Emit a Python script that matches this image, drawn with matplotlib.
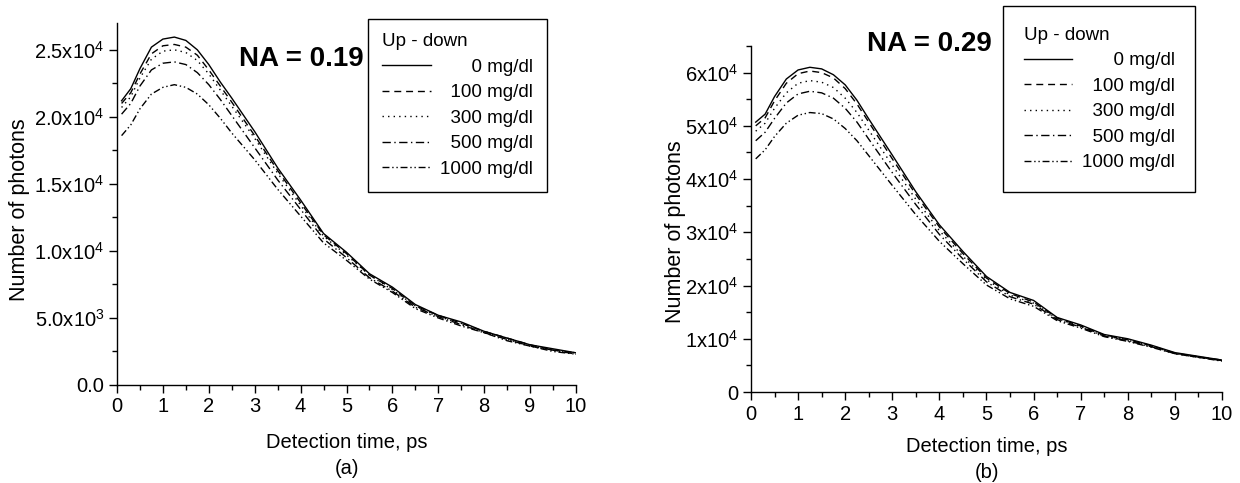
import matplotlib
matplotlib.use("Agg")
import matplotlib.pyplot as plt
from matplotlib.ticker import MultipleLocator, FixedLocator, FixedFormatter

plt.rcParams["font.family"] = ["Liberation Sans", "DejaVu Sans"]
plt.rcParams["mathtext.fontset"] = "custom"
plt.rcParams["mathtext.rm"] = "Liberation Sans"
plt.rcParams["mathtext.default"] = "regular"

W, H = 1240, 483

# ---------------------------------------------------------------------------
# Data
# ---------------------------------------------------------------------------
time_ps = [0.1, 0.3, 0.5, 0.75, 1.0, 1.25, 1.5, 1.75, 2.0, 2.25, 2.5, 3.0, 3.5,
           4.0, 4.5, 5.0, 5.5, 6.0, 6.5, 7.0, 7.5, 8.0, 8.5, 9.0, 9.5, 10.0]

concentrations = ["0 mg/dl", "100 mg/dl", "300 mg/dl", "500 mg/dl", "1000 mg/dl"]
legend_labels = ["      0 mg/dl", "  100 mg/dl", "  300 mg/dl", "  500 mg/dl", "1000 mg/dl"]

# NA = 0.19, photons in units of 1e3
na019_0    = [21.2, 22.1, 23.6, 25.2, 25.8, 25.95, 25.7, 25.0, 23.9, 22.6, 21.4, 18.9, 16.2,
              13.8, 11.3, 9.9, 8.3, 7.3, 6.0, 5.2, 4.7, 4.0, 3.5, 3.0, 2.7, 2.4]
na019_100  = [21.0, 21.8, 23.2, 24.7, 25.3, 25.4, 25.2, 24.6, 23.5, 22.3, 21.1, 18.6, 16.0,
              13.6, 11.2, 9.8, 8.2, 7.2, 5.9, 5.2, 4.6, 4.0, 3.5, 3.0, 2.6, 2.4]
na019_300  = [20.7, 21.5, 22.9, 24.3, 24.9, 25.0, 24.8, 24.2, 23.2, 22.0, 20.8, 18.4, 15.8,
              13.4, 11.1, 9.7, 8.2, 7.1, 5.9, 5.1, 4.6, 4.0, 3.4, 2.9, 2.6, 2.4]
na019_500  = [20.2, 21.0, 22.3, 23.5, 24.0, 24.1, 23.9, 23.3, 22.4, 21.3, 20.1, 17.7, 15.3,
              13.1, 10.9, 9.5, 8.0, 7.0, 5.8, 5.1, 4.5, 3.9, 3.4, 2.9, 2.6, 2.3]
na019_1000 = [18.6, 19.4, 20.6, 21.7, 22.2, 22.4, 22.2, 21.7, 20.9, 19.9, 18.8, 16.8, 14.6,
              12.6, 10.6, 9.3, 7.9, 6.9, 5.7, 5.0, 4.4, 3.9, 3.3, 2.9, 2.5, 2.3]

# NA = 0.29, photons in units of 1e4
na029_0    = [5.07, 5.22, 5.55, 5.88, 6.05, 6.10, 6.07, 5.96, 5.77, 5.48, 5.13, 4.45, 3.76,
              3.14, 2.64, 2.17, 1.87, 1.72, 1.40, 1.26, 1.08, 1.00, 0.88, 0.74, 0.67, 0.60]
na029_100  = [5.00, 5.15, 5.47, 5.80, 5.98, 6.03, 6.00, 5.90, 5.70, 5.41, 5.07, 4.38, 3.71,
              3.10, 2.60, 2.14, 1.85, 1.69, 1.39, 1.24, 1.07, 0.98, 0.87, 0.73, 0.66, 0.60]
na029_300  = [4.90, 5.05, 5.33, 5.62, 5.80, 5.85, 5.82, 5.72, 5.52, 5.25, 4.92, 4.26, 3.62,
              3.03, 2.55, 2.11, 1.82, 1.67, 1.38, 1.23, 1.06, 0.97, 0.86, 0.73, 0.66, 0.59]
na029_500  = [4.72, 4.88, 5.14, 5.43, 5.60, 5.65, 5.62, 5.52, 5.33, 5.07, 4.75, 4.12, 3.52,
              2.96, 2.50, 2.07, 1.79, 1.65, 1.36, 1.22, 1.05, 0.96, 0.85, 0.72, 0.65, 0.59]
na029_1000 = [4.38, 4.55, 4.80, 5.05, 5.20, 5.25, 5.23, 5.13, 4.95, 4.72, 4.44, 3.88, 3.33,
              2.83, 2.41, 2.01, 1.75, 1.61, 1.34, 1.20, 1.04, 0.95, 0.84, 0.72, 0.65, 0.58]

ticks_a = [0, 5000, 10000, 15000, 20000, 25000]
ticklabels_a = ["0.0", "5.0x10$^3$", "1.0x10$^4$", "1.5x10$^4$", "2.0x10$^4$", "2.5x10$^4$"]
ticks_b = [0, 10000, 20000, 30000, 40000, 50000, 60000]
ticklabels_b = ["0", "1x10$^4$", "2x10$^4$", "3x10$^4$", "4x10$^4$", "5x10$^4$", "6x10$^4$"]

styles = ["-", (0, (5, 3.5)), (0, (1, 3)), (0, (6, 2.5, 1, 2.5)), (0, (5, 2, 1, 2, 1, 2))]


def px(x, y):
    return x / W, 1 - y / H


def axes_rect(left, top, right, bottom):
    return [left / W, 1 - bottom / H, (right - left) / W, (bottom - top) / H]


def panel(fig, rect, series, scale, ylim, ticks, ticklabels, yminor, na_text, na_pos, leg_pos, borderpad):
    ax = fig.add_axes(rect)
    for vals, ls, lab in zip(series, styles, legend_labels):
        ax.plot(time_ps, [v * scale for v in vals], color="black", lw=1.0, ls=ls, label=lab)
    ax.set_xlim(0, 10)
    ax.set_ylim(0, ylim)
    ax.xaxis.set_major_locator(MultipleLocator(1))
    ax.xaxis.set_minor_locator(MultipleLocator(0.5))
    ax.yaxis.set_major_locator(FixedLocator(ticks))
    ax.yaxis.set_major_formatter(FixedFormatter(ticklabels))
    ax.yaxis.set_minor_locator(MultipleLocator(yminor))
    for s in ("top", "right"):
        ax.spines[s].set_visible(False)
    for s in ("left", "bottom"):
        ax.spines[s].set_linewidth(1.0)
    ax.tick_params(which="major", direction="out", length=6, width=1.0, labelsize=14.5, pad=3)
    ax.tick_params(which="minor", direction="out", length=3.5, width=1.0)

    fig.text(*px(*na_pos), na_text, fontsize=20, fontweight="bold", ha="left", va="center")

    leg = ax.legend(loc="upper left", bbox_to_anchor=px(*leg_pos), bbox_transform=fig.transFigure,
                    title="Up - down", alignment="left", fontsize=13.5, title_fontsize=13.5,
                    handlelength=2.6, handletextpad=0.5, labelspacing=0.45,
                    borderpad=borderpad, borderaxespad=0, fancybox=False, framealpha=1,
                    edgecolor="black")
    leg.get_frame().set_linewidth(1.0)
    return ax


fig = plt.figure(figsize=(W / 100, H / 100), dpi=100)

series_a = [na019_0, na019_100, na019_300, na019_500, na019_1000]
series_b = [na029_0, na029_100, na029_300, na029_500, na029_1000]

panel(fig, axes_rect(117, 23, 576, 385), series_a, 1e3, 27000, ticks_a, ticklabels_a, 2500,
      "NA = 0.19", (239, 59), (368, 19), 0.75)
panel(fig, axes_rect(751, 46, 1222, 392), series_b, 1e4, 65000, ticks_b, ticklabels_b, 5000,
      "NA = 0.29", (867, 44), (1003, 6), 1.1)

fig.text(*px(20, 210), "Number of photons", fontsize=15.5, rotation=90, ha="center", va="center")
fig.text(*px(676, 232), "Number of photons", fontsize=15.5, rotation=90, ha="center", va="center")
fig.text(*px(346.5, 443), "Detection time, ps", fontsize=14.5, ha="center", va="center")
fig.text(*px(346.5, 468), "(a)", fontsize=14.5, ha="center", va="center")
fig.text(*px(986.5, 446), "Detection time, ps", fontsize=14.5, ha="center", va="center")
fig.text(*px(986.5, 472), "(b)", fontsize=14.5, ha="center", va="center")

fig.savefig("out.png", dpi=100)
